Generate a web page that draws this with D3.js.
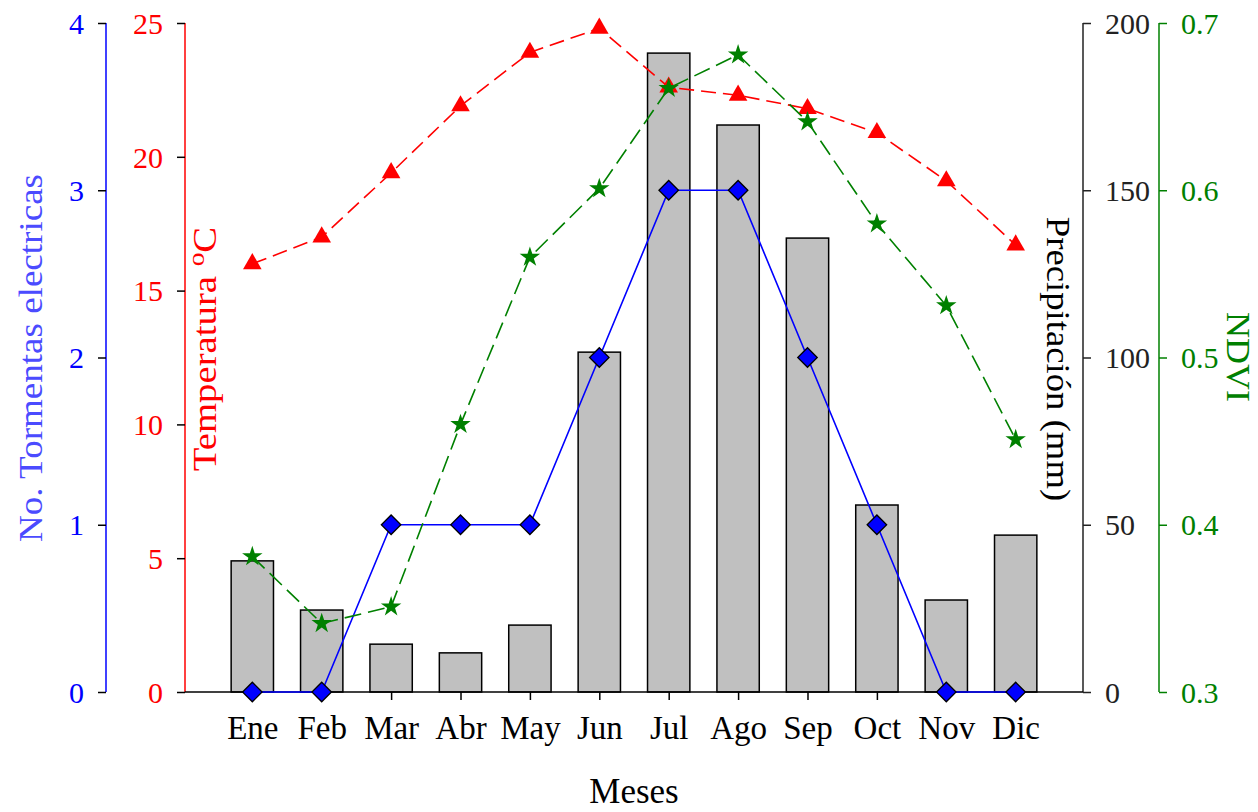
<!DOCTYPE html>
<html>
<head>
<meta charset="utf-8">
<script src="https://cdn.jsdelivr.net/npm/d3@7"></script>
<style>
  body { margin: 0; background: #fff; }
  svg { display: block; font-family: "Liberation Serif", "Times New Roman", serif; }
</style>
</head>
<body>
<div id="chart"></div>
<script>
// data
const months   = ["Ene","Feb","Mar","Abr","May","Jun","Jul","Ago","Sep","Oct","Nov","Dic"];
const precip   = [39.2, 24.5, 14.3, 11.7, 20.0, 101.6, 191.0, 169.5, 135.7, 55.9, 27.5, 46.9];
const temp     = [16.0, 17.0, 19.4, 21.9, 23.9, 24.8, 22.6, 22.3, 21.8, 20.9, 19.1, 16.7];
const ndvi     = [0.381, 0.341, 0.351, 0.460, 0.560, 0.601, 0.661, 0.681, 0.641, 0.580, 0.531, 0.451];
const storms   = [0, 0, 1, 1, 1, 2, 3, 3, 2, 1, 0, 0];

const stormTicks  = [0, 1, 2, 3, 4];
const tempTicks   = [0, 5, 10, 15, 20, 25];
const precipTicks = [0, 50, 100, 150, 200];
const ndviTicks   = [0.3, 0.4, 0.5, 0.6, 0.7];

const W = 1258, H = 812;
const m = { top: 23, bottom: 692, left: 185, right: 1083 };
const blueX = 106, greenX = 1159;

const svg = d3.select("#chart").append("svg")
  .attr("width", W).attr("height", H);

// scales
const x = d3.scalePoint().domain(months).range([m.left, m.right]).padding(0.97);
const barW = x.step() * 0.61;
const yS = d3.scaleLinear().domain([0, 4]).range([m.bottom, m.top]);
const yT = d3.scaleLinear().domain([0, 25]).range([m.bottom, m.top]);
const yP = d3.scaleLinear().domain([0, 200]).range([m.bottom, m.top]);
const yN = d3.scaleLinear().domain([0.3, 0.7]).range([m.bottom, m.top]);

// axis helper
function yAxis(pos, scale, ticks, color, side, fmt, tickColor) {
  const ax = (side === "left" ? d3.axisLeft(scale) : d3.axisRight(scale))
    .tickValues(ticks).tickSize(8).tickPadding(14)
    .tickFormat(fmt);
  const g = svg.append("g")
    .attr("transform", `translate(${pos},0)`)
    .call(ax);
  g.select(".domain").attr("stroke", color).attr("stroke-width", 1.5)
    .attr("d", `M0,${m.bottom}V${m.top}`);
  g.selectAll(".tick line").attr("stroke", tickColor).attr("stroke-width", 1.5);
  g.selectAll(".tick text").attr("fill", color)
    .style("font-size", "30px").style("font-family", "Liberation Serif")
    .attr("dy", "0.34em");
  return g;
}

yAxis(blueX, yS, stormTicks, "#0000ff", "left", d3.format("d"), "#000");
yAxis(m.left, yT, tempTicks, "#ff0000", "left", d3.format("d"), "#000");
yAxis(m.right, yP, precipTicks, "#222", "right", d3.format("d"), "#222");
yAxis(greenX, yN, ndviTicks, "#008000", "right", d3.format(".1f"), "#008000");

// bars
svg.append("g").selectAll("rect")
  .data(months)
  .join("rect")
    .attr("x", d => x(d) - barW / 2)
    .attr("y", (d, i) => yP(precip[i]))
    .attr("width", barW)
    .attr("height", (d, i) => yP(0) - yP(precip[i]))
    .attr("fill", "#c0c0c0")
    .attr("stroke", "#000")
    .attr("stroke-width", 1.5);

// x axis
const xg = svg.append("g")
  .attr("transform", `translate(0,${m.bottom})`)
  .call(d3.axisBottom(x).tickSize(8).tickPadding(16));
xg.select(".domain").attr("stroke", "#000").attr("stroke-width", 1.5)
  .attr("d", `M${m.left},0H${m.right}`);
xg.selectAll(".tick line").attr("stroke", "#000").attr("stroke-width", 1.5);
xg.selectAll(".tick text").attr("fill", "#000")
  .style("font-size", "33px").style("font-family", "Liberation Serif");

// series
function series(vals, scale, color, dash, symbol, size, rot, stroke) {
  const line = d3.line().x((d, i) => x(months[i])).y(d => scale(d));
  svg.append("path")
    .datum(vals)
    .attr("d", line)
    .attr("fill", "none")
    .attr("stroke", color)
    .attr("stroke-width", 1.6)
    .attr("stroke-dasharray", dash);
  svg.append("g").selectAll("path")
    .data(vals)
    .join("path")
      .attr("transform", (d, i) => `translate(${x(months[i])},${scale(d)}) rotate(${rot})`)
      .attr("d", d3.symbol().type(symbol).size(size))
      .attr("fill", color)
      .attr("stroke", stroke || "none")
      .attr("stroke-width", 1.3);
}

series(storms, yS, "#0000ff", null, d3.symbolSquare, 190, 45, "#000");
series(temp, yT, "#ff0000", "15,7", d3.symbolTriangle, 150, 0);
series(ndvi, yN, "#008000", "17,7", d3.symbolStar, 130, 0);

// titles (slightly stretched along the text direction, as in the source)
svg.append("text")
  .attr("transform", `translate(42,358) rotate(-90) scale(1.09,1)`)
  .attr("text-anchor", "middle")
  .attr("fill", "#4b4bff")
  .style("font-size", "34px")
  .text("No. Tormentas electricas");

const tt = svg.append("text")
  .attr("transform", `translate(216,349) rotate(-90) scale(1.14,1)`)
  .attr("text-anchor", "middle")
  .attr("fill", "#ff0000")
  .style("font-size", "34px");
tt.append("tspan").text("Temperatura ");
tt.append("tspan").attr("dy", -12).style("font-size", "24px").text("o");
tt.append("tspan").attr("dy", 12).text("C");

svg.append("text")
  .attr("transform", `translate(1047,359) rotate(90) scale(1.08,1)`)
  .attr("text-anchor", "middle")
  .attr("fill", "#000")
  .style("font-size", "34px")
  .text("Precipitación (mm)");

svg.append("text")
  .attr("transform", `translate(1227,357) rotate(90) scale(1.06,1)`)
  .attr("text-anchor", "middle")
  .attr("fill", "#008000")
  .style("font-size", "34px")
  .text("NDVI");

svg.append("text")
  .attr("x", x("Jun") + x.step() / 2)
  .attr("y", 803)
  .attr("text-anchor", "middle")
  .attr("fill", "#000")
  .style("font-size", "35px")
  .text("Meses");
</script>
</body>
</html>
